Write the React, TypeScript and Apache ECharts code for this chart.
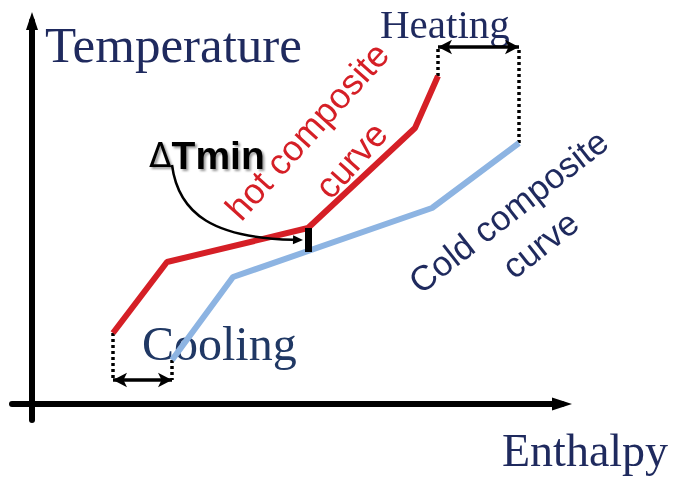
import React, { useEffect, useRef } from "react";
import * as echarts from "echarts";

// Composite curves (enthalpy, temperature) in arbitrary units
const hotCurve: number[][] = [
  [81, 71],
  [135, 142],
  [276, 176],
  [383, 276],
  [406, 328],
];
const coldCurve: number[][] = [
  [140, 44],
  [201, 127],
  [400, 196],
  [487, 261],
];
const pinchCold: number[] = [276, 152];
const heatingLevel = 357;
const coolingLevel = 24;
const dTminTail: number[] = [140, 239];
const dTminHead: number[] = [271, 164];

const RED = "#d51f26";
const BLUE = "#8db4e2";
const NAVY = "#1f2a5e";

export default function App() {
  const ref = useRef<HTMLDivElement>(null);
  useEffect(() => {
    const chart = echarts.init(ref.current!, null, { renderer: "svg" });
    const hotEnd = hotCurve[hotCurve.length - 1];
    const hotStart = hotCurve[0];
    const coldEnd = coldCurve[coldCurve.length - 1];
    const coldStart = coldCurve[0];
    const pinchHot = hotCurve[2];

    const dotted = (pts: number[][]) => ({
      type: "line",
      data: pts,
      symbol: "none",
      silent: true,
      lineStyle: { color: "#000", width: 3.5, type: [3, 3] },
      z: 1,
    });

    const arrowLine = (a: number[], b: number[]) => ({
      type: "line",
      data: [],
      silent: true,
      markLine: {
        silent: true,
        animation: false,
        symbol: ["arrow", "arrow"],
        symbolSize: [11, 14],
        label: { show: false },
        lineStyle: { color: "#000", width: 3.5, type: "solid" },
        data: [[{ coord: a }, { coord: b }]],
      },
    });

    const shadow = {
      textShadowColor: "rgba(0,0,0,0.4)",
      textShadowOffsetX: 2,
      textShadowOffsetY: 2,
      textShadowBlur: 2,
    };

    chart.setOption({
      animation: false,
      grid: { left: 12, right: 112, top: 21, bottom: 57 },
      xAxis: {
        type: "value",
        min: -20,
        max: 530,
        axisLine: {
          onZero: true,
          symbol: ["none", "triangle"],
          symbolSize: [13, 20],
          lineStyle: { color: "#000", width: 6 },
        },
        axisTick: { show: false },
        axisLabel: { show: false },
        splitLine: { show: false },
      },
      yAxis: {
        type: "value",
        min: -16,
        max: 383,
        axisLine: {
          onZero: true,
          symbol: ["none", "triangle"],
          symbolSize: [12, 18],
          lineStyle: { color: "#000", width: 6 },
        },
        axisTick: { show: false },
        axisLabel: { show: false },
        splitLine: { show: false },
      },
      series: [
        dotted([hotEnd, [hotEnd[0], heatingLevel]]),
        dotted([coldEnd, [coldEnd[0], heatingLevel]]),
        dotted([hotStart, [hotStart[0], coolingLevel]]),
        dotted([coldStart, [coldStart[0], coolingLevel]]),
        {
          type: "line",
          name: "cold composite curve",
          data: coldCurve,
          symbol: "none",
          silent: true,
          lineStyle: { color: BLUE, width: 6 },
          z: 2,
        },
        {
          type: "line",
          name: "hot composite curve",
          data: hotCurve,
          symbol: "none",
          silent: true,
          lineStyle: { color: RED, width: 6 },
          z: 3,
        },
        arrowLine([hotEnd[0], heatingLevel], [coldEnd[0], heatingLevel]),
        arrowLine([hotStart[0], coolingLevel], [coldStart[0], coolingLevel]),
        {
          type: "line",
          data: [],
          silent: true,
          z: 4,
          markLine: {
            silent: true,
            animation: false,
            symbol: ["none", "none"],
            label: { show: false },
            lineStyle: { color: "#000", width: 7, type: "solid" },
            data: [[{ coord: pinchHot }, { coord: pinchCold }]],
          },
        },
        {
          type: "custom",
          silent: true,
          z: 5,
          encode: { x: [0, 2], y: [1, 3] },
          data: [[dTminTail[0], dTminTail[1], dTminHead[0], dTminHead[1]]],
          renderItem: (_params: any, api: any) => {
            const p1 = api.coord([api.value(0), api.value(1)]);
            const p2 = api.coord([api.value(2), api.value(3)]);
            const dx = p2[0] - p1[0];
            const dy = p2[1] - p1[1];
            const c1 = [p1[0] + dx * 0.05, p1[1] + dy * 0.67];
            const c2 = [p1[0] + dx * 0.33, p1[1] + dy * 0.97];
            let ux = p2[0] - c2[0];
            let uy = p2[1] - c2[1];
            const len = Math.sqrt(ux * ux + uy * uy) || 1;
            ux /= len;
            uy /= len;
            const hl = 10;
            const hw = 4.5;
            const bx = p2[0] - ux * hl;
            const by = p2[1] - uy * hl;
            return {
              type: "group",
              children: [
                {
                  type: "bezierCurve",
                  shape: {
                    x1: p1[0],
                    y1: p1[1],
                    cpx1: c1[0],
                    cpy1: c1[1],
                    cpx2: c2[0],
                    cpy2: c2[1],
                    x2: bx,
                    y2: by,
                  },
                  style: { stroke: "#000", lineWidth: 2.5, fill: "none" },
                },
                {
                  type: "polygon",
                  shape: {
                    points: [
                      [p2[0], p2[1]],
                      [bx - uy * hw, by + ux * hw],
                      [bx + uy * hw, by - ux * hw],
                    ],
                  },
                  style: { fill: "#000" },
                },
              ],
            };
          },
        },
      ],
      graphic: [
        {
          type: "text",
          x: 45,
          y: 45,
          style: {
            text: "Temperature",
            fontSize: 51,
            fontFamily: "Liberation Serif",
            fill: NAVY,
            verticalAlign: "middle",
          },
        },
        {
          type: "text",
          x: 380,
          y: 24,
          style: {
            text: "Heating",
            fontSize: 41,
            fontFamily: "Liberation Serif",
            fill: NAVY,
            verticalAlign: "middle",
          },
        },
        {
          type: "text",
          x: 502,
          y: 450,
          style: {
            text: "Enthalpy",
            fontSize: 46,
            fontFamily: "Liberation Serif",
            fill: NAVY,
            verticalAlign: "middle",
          },
        },
        {
          type: "text",
          x: 142,
          y: 343,
          style: {
            text: "Cooling",
            fontSize: 48,
            fontFamily: "Liberation Serif",
            fill: "#203864",
            verticalAlign: "middle",
          },
        },
        {
          type: "text",
          x: 149,
          y: 155,
          z: 10,
          style: {
            text: "{d|Δ}{t|Tmin}",
            verticalAlign: "middle",
            rich: {
              d: {
                fontSize: 33,
                fontFamily: "DejaVu Sans",
                color: "#000",
                ...shadow,
              },
              t: {
                fontSize: 39,
                fontWeight: "bold",
                fontFamily: "Liberation Sans",
                color: "#000",
                ...shadow,
              },
            },
          },
        },
        {
          type: "text",
          x: 307,
          y: 131,
          rotation: (48 * Math.PI) / 180,
          style: {
            text: "hot composite",
            fontSize: 36,
            fontFamily: "Liberation Sans",
            fill: RED,
            align: "center",
            verticalAlign: "middle",
          },
        },
        {
          type: "text",
          x: 351,
          y: 160,
          rotation: (48 * Math.PI) / 180,
          style: {
            text: "curve",
            fontSize: 36,
            fontFamily: "Liberation Sans",
            fill: RED,
            align: "center",
            verticalAlign: "middle",
          },
        },
        {
          type: "text",
          x: 508,
          y: 211,
          rotation: (38 * Math.PI) / 180,
          style: {
            text: "Cold composite",
            fontSize: 35,
            fontFamily: "Liberation Sans",
            fill: NAVY,
            align: "center",
            verticalAlign: "middle",
          },
        },
        {
          type: "text",
          x: 540,
          y: 244,
          rotation: (38 * Math.PI) / 180,
          style: {
            text: "curve",
            fontSize: 35,
            fontFamily: "Liberation Sans",
            fill: NAVY,
            align: "center",
            verticalAlign: "middle",
          },
        },
      ],
    });
    return () => chart.dispose();
  }, []);
  return (
    <div
      ref={ref}
      style={{ position: "fixed", left: 0, top: 0, width: 674, height: 477 }}
    />
  );
}
